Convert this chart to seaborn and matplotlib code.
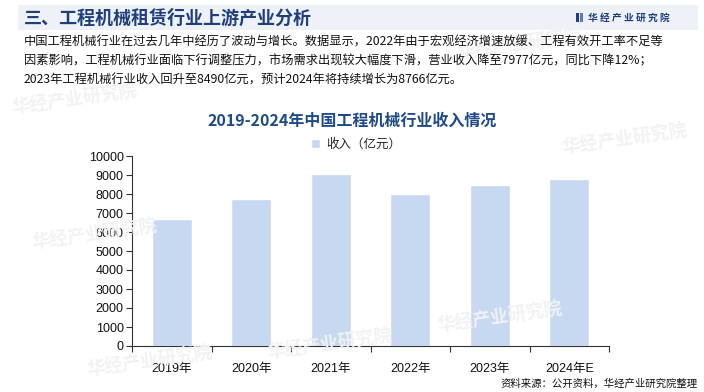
import matplotlib
matplotlib.use("Agg")
import matplotlib.pyplot as plt
import pandas as pd
import seaborn as sns
from matplotlib.patches import Rectangle

# data
years = ["2019年", "2020年", "2021年", "2022年", "2023年", "2024年E"]
revenue = [6681, 7750, 9067, 7977, 8490, 8766]
series_name = "收入（亿元）"
y_ticks = list(range(0, 10001, 1000))

header_title = "三、工程机械租赁行业上游产业分析"
brand = "华 经 产 业 研 究 院"
paragraph = [
    "中国工程机械行业在过去几年中经历了波动与增长。数据显示，2022年由于宏观经济增速放缓、工程有效开工率不足等",
    "因素影响，工程机械行业面临下行调整压力，市场需求出现较大幅度下滑，营业收入降至7977亿元，同比下降12%；",
    "2023年工程机械行业收入回升至8490亿元，预计2024年将持续增长为8766亿元。",
]
chart_title = "2019-2024年中国工程机械行业收入情况"
source_note = "资料来源：公开资料，华经产业研究院整理"

bar_color = "#C6D9F1"
navy = "#1F3E7C"

sns.set_theme(style="white")
plt.rcParams["font.family"] = ["Noto Sans CJK SC", "DejaVu Sans"]

df = pd.DataFrame({"year": years, "value": revenue})

fig = plt.figure(figsize=(7.04, 3.92), dpi=100)
W, H = 704, 392


def fx(px):
    return px / W


def fy(py):
    return 1 - py / H


# header band
fig.patches.append(Rectangle((fx(18), fy(30)), fx(680), 25 / H, transform=fig.transFigure,
                             facecolor="#EEF2F8", edgecolor="none", zorder=0))
fig.text(fx(24), fy(18), header_title, fontsize=13, fontweight="bold", color=navy,
         va="center", ha="left")
fig.patches.append(Rectangle((fx(576), fy(22)), fx(3), 9 / H, transform=fig.transFigure,
                             facecolor=navy, edgecolor="none"))
fig.patches.append(Rectangle((fx(580), fy(22)), fx(3), 9 / H, transform=fig.transFigure,
                             facecolor="#5A7DB8", edgecolor="none"))
fig.text(fx(588), fy(17.5), brand, fontsize=7, fontweight="bold", color=navy,
         va="center", ha="left")

# very faint watermarks
for (x, y) in [(75, 100), (95, 235), (150, 362), (520, 45), (330, 345), (500, 318), (625, 140)]:
    fig.text(fx(x), fy(y), "华经产业研究院", fontsize=13, fontweight="bold", color="#F1F2F4",
             rotation=8, ha="center", va="center", zorder=0)

# intro paragraph
for i, line in enumerate(paragraph):
    fig.text(fx(24), fy(42 + i * 19.2), line, fontsize=8.8, color="#111111",
             va="center", ha="left")

fig.text(0.5, fy(121), chart_title, fontsize=11.5, fontweight="bold", color="#1F4A8A",
         ha="center", va="center")

ax = fig.add_axes([fx(132), fy(346), fx(609 - 132), (346 - 156) / H])
ax.patch.set_alpha(0)
sns.barplot(data=df, x="year", y="value", color=bar_color, width=0.5, saturation=1,
            label=series_name, ax=ax)

ax.set_ylim(0, 10000)
ax.set_yticks(y_ticks)
ax.set_xlim(-0.5, len(years) - 0.5)
ax.set_xlabel("")
ax.set_ylabel("")
for side in ["top", "right"]:
    ax.spines[side].set_visible(False)
for side in ["left", "bottom"]:
    ax.spines[side].set_color("#333333")
    ax.spines[side].set_linewidth(0.8)

tick_fonts = ["Liberation Sans", "Noto Sans CJK SC"]
ax.tick_params(axis="y", which="major", left=True, length=4, width=0.8, color="#333333",
               labelsize=9, pad=2)
ax.tick_params(axis="x", which="major", bottom=False, labelsize=9, pad=6)
ax.set_xticks(range(len(years)))
ax.set_xticks([i + 0.5 for i in range(-1, len(years))], minor=True)
ax.tick_params(axis="x", which="minor", bottom=True, length=4, width=0.8, color="#333333")
for lab in ax.get_yticklabels() + ax.get_xticklabels():
    lab.set_family(tick_fonts)
    lab.set_color("#111111")

leg = ax.legend(loc="upper center", bbox_to_anchor=(fx(356 - 132) / fx(477), 1.12),
                frameon=False, fontsize=9, handlelength=0.7, handleheight=0.7,
                handletextpad=0.5, borderaxespad=0)

fig.text(fx(698), fy(384), source_note, fontsize=7.5, color="#111111", ha="right", va="center")

fig.savefig("out.png", dpi=100)
